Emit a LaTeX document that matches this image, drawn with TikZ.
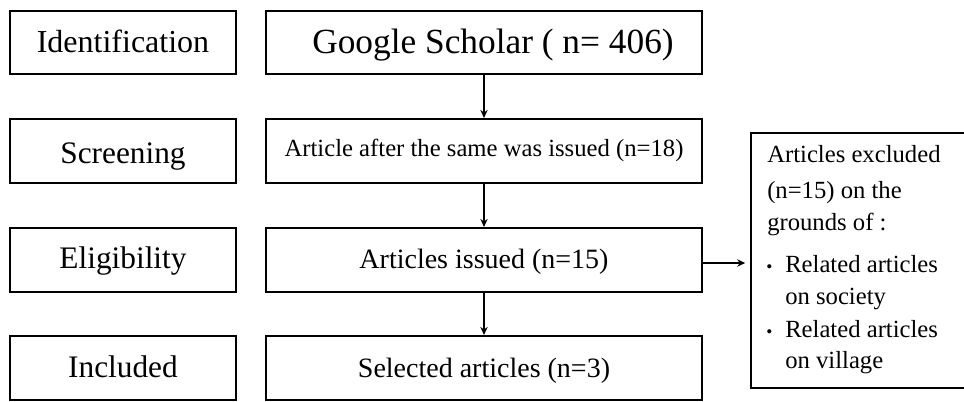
\documentclass[tikz,border=0pt]{standalone}
\usepackage{fontspec}
\setmainfont{Liberation Serif}
\usetikzlibrary{arrows.meta}
\begin{document}
\begin{tikzpicture}[x=0.75pt,y=-0.75pt,
  box/.style={draw, line width=1.6pt, inner sep=0pt, text depth=0pt},
  lbox/.style={box, minimum width=169.5pt, minimum height=48pt, font=\fontsize{23.5}{28}\selectfont},
  mbox/.style={box, minimum width=327pt, minimum height=48pt},
  bl/.style={text height=#1},
  arr/.style={line width=1.1pt, -{Stealth[length=6pt,width=5.5pt]}},
  txt/.style={anchor=base west, inner sep=0pt, font=\fontsize{18.5}{22}\selectfont},
  bul/.style={anchor=base west, inner sep=0pt, font=\fontsize{13}{13}\selectfont}]
\useasboundingbox (0,0) rectangle (964,401);

% left column
\node[lbox, minimum height=47.25pt, bl=14.25pt, font=\fontsize{24}{28}\selectfont] (id) at (123,42.5) {Identification};
\node[lbox, bl=18pt] (sc) at (123,151) {Screening};
\node[lbox, bl=12pt] (el) at (123,260) {Eligibility};
\node[lbox, bl=13.5pt] (in) at (123,368) {Included};

% middle column
\node[mbox, minimum height=47.25pt, bl=15.75pt, font=\fontsize{26.5}{30}\selectfont] (gs) at (484,42.5) {\hspace*{13.5pt}Google Scholar ( n= 406)};
\node[mbox, bl=7.5pt, font=\fontsize{18.5}{22}\selectfont] (aa) at (484,151) {Article after the same was issued (n=18)};
\node[mbox, bl=12pt, font=\fontsize{21}{25}\selectfont] (ai) at (484,260) {Articles issued (n=15)};
\node[mbox, bl=13.5pt, font=\fontsize{21}{25}\selectfont] (sa) at (484,368) {Selected articles (n=3)};

% right box (its right side lies beyond the picture's edge)
\node[inner sep=0pt, minimum width=159pt, minimum height=191.25pt] (excl) at (857.5,260.5) {};
\draw[line width=1.6pt] (excl.north east) -- (excl.north west) -- (excl.south west) -- (excl.south east);
\node[txt] (e1) at (767,162) {Articles excluded};
\node[txt] (e2) at (767,198) {(n=15) on the};
\node[txt] (e3) at (767,230) {grounds of :};
\node[bul] (b1) at (766,272) {\textbullet};
\node[txt] (e4) at (785,272) {Related articles};
\node[txt] (e5) at (785,304) {on society};
\node[bul] (b2) at (766,337) {\textbullet};
\node[txt] (e6) at (785,337) {Related articles};
\node[txt] (e7) at (785,368) {on village};

% connectors
\draw[arr] (gs.south) -- (aa.north);
\draw[arr] (aa.south) -- (ai.north);
\draw[arr] (ai.south) -- (sa.north);
\draw[arr, shorten >=4.5pt] ([yshift=-2.25pt]ai.east) -- ([yshift=-2.25pt]ai.east -| excl.west);
\end{tikzpicture}
\end{document}
